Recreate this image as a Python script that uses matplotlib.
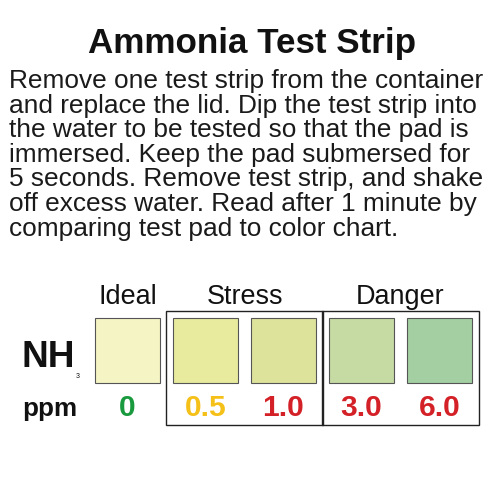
import matplotlib.pyplot as plt
from matplotlib.patches import Rectangle

plt.rcParams['font.family'] = ['Liberation Sans', 'DejaVu Sans']

title = "Ammonia Test Strip"
lines = ["Remove one test strip from the container",
         "and replace the lid. Dip the test strip into",
         "the water to be tested so that the pad is",
         "immersed. Keep the pad submersed for",
         "5 seconds. Remove test strip, and shake",
         "off excess water. Read after 1 minute by",
         "comparing test pad to color chart."]
ppm = ["0", "0.5", "1.0", "3.0", "6.0"]
pad_colors = ["#f5f4c4", "#e8eb9e", "#dde39a", "#c6dba4", "#a3cfa2"]
ppm_colors = ["#1a9a3e", "#f5c018", "#d42027", "#d42027", "#d42027"]
groups = [("Ideal", 0, 0), ("Stress", 1, 2), ("Danger", 3, 4)]

fig = plt.figure(figsize=(5, 5), dpi=100)
ax = fig.add_axes([0, 0, 1, 1])
ax.set_xlim(0, 500)
ax.set_ylim(500, 0)
ax.axis('off')

px = 0.72  # points per pixel
ax.text(252, 53, title, ha='center', va='baseline', fontsize=35 * px, fontweight='bold', color='#111')
for i, ln in enumerate(lines):
    ax.text(9, 88 + i * 24.6, ln, ha='left', va='baseline', fontsize=26.3 * px, color='#1a1a1a')

x0, step, w = 95, 78, 65
for i, (c, lab, lc) in enumerate(zip(pad_colors, ppm, ppm_colors)):
    x = x0 + i * step
    ax.add_patch(Rectangle((x, 318), w, 65, facecolor=c, edgecolor='#555', lw=0.8))
    ax.text(x + w / 2, 416, lab, ha='center', va='baseline', fontsize=30 * px,
            fontweight='bold', color=lc)

for name, a, b in groups:
    xa = x0 + a * step
    xb = x0 + b * step + w
    ax.text((xa + xb) / 2, 304, name, ha='center', va='baseline', fontsize=27 * px, color='#111')
    if a != b:
        ax.add_patch(Rectangle((xa - 7, 311), xb - xa + 13.5, 114, facecolor='none',
                               edgecolor='#222', lw=1))

ax.text(21, 367, "NH", ha='left', va='baseline', fontsize=37 * px, fontweight='bold', color='#111')
ax.text(78, 378, "3", ha='center', va='baseline', fontsize=7 * px, color='#111')
ax.text(22, 416, "ppm", ha='left', va='baseline', fontsize=26 * px, fontweight='bold', color='#111')

fig.savefig("out.png", dpi=100)
